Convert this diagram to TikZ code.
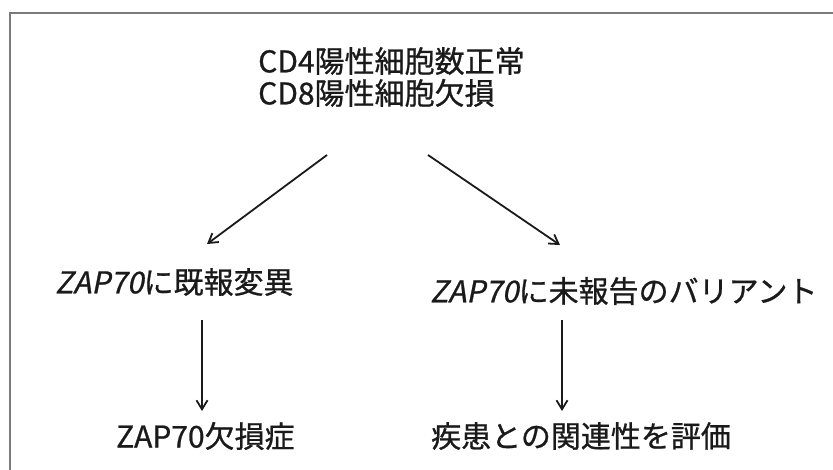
\documentclass[tikz,border=0pt]{standalone}
\usepackage{fontspec}
\setmainfont{Noto Sans CJK JP}[FakeBold=0.8]
\newfontfamily\jpit{Noto Sans CJK JP}[FakeSlant=0.2,FakeBold=0.8]
\usetikzlibrary{arrows.meta}
\definecolor{txt}{HTML}{1A1A1A}
\definecolor{framegray}{HTML}{7A7A7A}
\tikzset{
  lbl/.style={inner sep=0pt, anchor=west, text=txt, font=\fontsize{30pt}{32pt}\selectfont},
  arr/.style={draw=txt, line width=1.8pt, -{Straight Barb[length=9pt,width=11pt,line width=1.8pt]}},
  framebox/.style={draw=framegray, line width=2pt}
}
\begin{document}
\begin{tikzpicture}[x=1pt,y=-1pt]
\useasboundingbox (0,0) rectangle (833,469);
\fill[white] (0,0) rectangle (833,469);
\draw[framebox] (10,472) -- (10,13) -- (836,13);

\node[lbl, align=left] (top) at (258,77) {CD4陽性細胞数正常\\CD8陽性細胞欠損};
\node[lbl] (mid1) at (55,282) {{\jpit ZAP70}に既報変異};
\node[lbl] (mid2) at (430,291) {{\jpit ZAP70}に未報告のバリアント};
\node[lbl] (bot1) at (116,436) {ZAP70欠損症};
\node[lbl] (bot2) at (431,436) {疾患との関連性を評価};

\coordinate (a1s) at (327,155);
\coordinate (a1e) at (207,244);
\coordinate (a2s) at (428,155);
\coordinate (a2e) at (560,245);
\coordinate (a3s) at (202,320);
\coordinate (a3e) at (202,411);
\coordinate (a4s) at (562,320);
\coordinate (a4e) at (562,411);

\draw[arr] (a1s) -- (a1e);
\draw[arr] (a2s) -- (a2e);
\draw[arr] (a3s) -- (a3e);
\draw[arr] (a4s) -- (a4e);
\end{tikzpicture}
\end{document}
